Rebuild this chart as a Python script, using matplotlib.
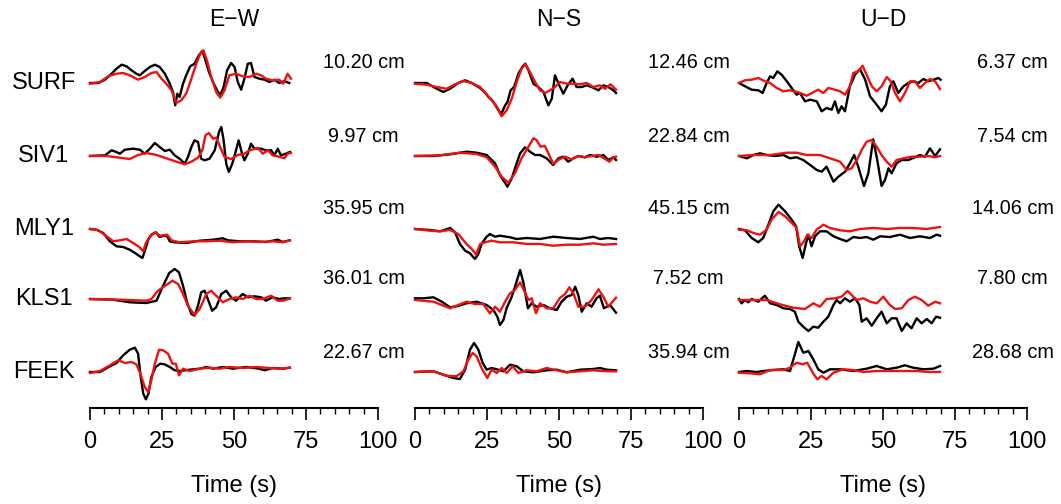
import matplotlib
matplotlib.use("Agg")
import matplotlib.pyplot as plt
from matplotlib.ticker import MultipleLocator

plt.rcParams['font.family'] = ['Liberation Sans', 'DejaVu Sans']

# stations (top to bottom) and components
stations = ["SURF", "SIV1", "MLY1", "KLS1", "FEEK"]
components = ["E\u2212W", "N\u2212S", "U\u2212D"]

# peak displacement per station, cm
ew_peak = [10.20, 9.97, 35.95, 36.01, 22.67]
ns_peak = [12.46, 22.84, 45.15, 7.52, 35.94]
ud_peak = [6.37, 7.54, 14.06, 7.80, 28.68]

# waveforms as (time s, normalized amplitude) - obs = recorded (black), syn = model (red)
ew_surf_obs = [(0, 0), (2.9, 0), (5.2, 3.3), (7.5, 9.3), (9.2, 14.3), (11, 18.3), (12.7, 16.7), (14.4, 12.7),
               (16.1, 9.3), (17.3, 7.7), (19, 12), (20.8, 16), (22.5, 18.3), (24.2, 16), (26, 9.3), (27.7, -0.7),
               (28.8, -9), (29.6, -22.3), (30.3, -10.7), (31.1, -14), (32.3, -0.7), (33.4, 7.7), (34.8, 16.7),
               (36.3, 19.3), (37.8, 27.7), (39, 32), (40.1, 22.7), (41.3, 11), (42.7, 1), (44.1, -7.3),
               (45.2, -12.3), (46.4, -4), (47.6, 12.7), (49, 20), (50.2, 16), (51.3, 1), (52.5, -6.7), (53.6, 4.3),
               (54.8, 19.3), (55.9, 20), (57.1, 6), (58.8, 4.3), (60.6, 3.3), (62.3, 1), (64, 3.3), (65.7, 0),
               (67.5, 2), (69.2, 0)]
ew_surf_syn = [(0, -0.7), (3.5, 1), (6.3, 6.7), (9.2, 9.3), (11.5, 10), (13.8, 7.7), (16.7, 3.3), (19, 6),
               (21.3, 10), (23.1, 11), (24.8, 4.3), (26.5, -0.7), (28.3, -7.3), (30, -20), (31.7, -17.3),
               (33.4, -10.7), (35.2, 4.3), (36.9, 19.3), (38.3, 29.3), (39.4, 32.7), (40.6, 22.7), (42.1, 6),
               (43.8, -9), (45.2, -14.7), (46.7, -7.3), (48.4, 7.7), (50.7, 9.3), (53, 6.7), (55.4, 6), (57.7, 9.3),
               (59.4, 7.7), (61.1, 4.3), (63.4, 2.7), (65.7, 3.3), (67.1, -0.7), (68.6, 9.3), (69.8, 4.3)]
ew_siv1_obs = [(0, 0), (5.2, 0.7), (7.5, 5.7), (9.2, 4), (10.4, 2.3), (12.1, 6.3), (15, 7.3), (17.3, 6.3),
               (19, 2.3), (20.8, 7.3), (22.5, 13), (24.2, 9), (26, 5), (27.7, 6.3), (29.4, 0.7), (31.1, -2.7),
               (32.9, -7.7), (34, -1), (35.2, 9), (36.3, 15.7), (37.5, 14), (38.6, -2.7), (39.8, -4.3),
               (41.5, -2.7), (43.3, 5.7), (44.8, 24), (45.6, 29), (46.4, 15.7), (47.3, -7.7), (48.2, -16),
               (49.4, -7.7), (50.7, 5.7), (51.6, 15.7), (52.8, 2.3), (53.6, -4.3), (54.8, 2.3), (55.9, 12.3),
               (57.1, 7.3), (59.4, 7.3), (61.1, 5.7), (62.9, 5.7), (64, 0.7), (65.2, 7.3), (66.3, 0.7), (68, 2.3),
               (69.4, 4)]
ew_siv1_syn = [(0, 0), (5.8, 0), (9.2, -1.3), (13.8, -3), (16.7, 1), (19.6, 3), (23.1, 1), (26.5, -2.3),
               (30, -5.7), (32.9, -8.3), (35.2, -5.7), (37.5, -1.7), (39, 5.7), (40.1, 20.7), (41.3, 23),
               (42.7, 17.3), (43.8, 18.3), (45.2, 9), (46.7, -1), (49, -3), (51.3, 1), (53.6, 2.3), (55.4, 5.7),
               (58.3, 8), (60, 2.3), (61.8, 5.7), (63.4, 0.7), (65.7, -0.7), (67.5, -2.3), (68.6, 2.3), (69.8, 3)]
ew_mly1_obs = [(0, 0), (2.3, -0.7), (4.6, -4), (6.9, -12.3), (9.2, -17.3), (11.5, -18), (13.8, -20.7),
               (15.6, -24), (17.3, -27.3), (18.2, -29), (19, -22.3), (20.2, -10.7), (21.3, -5.7), (22.8, -3.3),
               (24.2, -8), (25.6, -6.7), (26.8, -7.3), (27.7, -12.3), (29.4, -13.3), (33.4, -14), (38.1, -11.7),
               (42.7, -10.7), (46.1, -9.3), (47.9, -11.3), (51.9, -12.3), (56.5, -12.3), (61.1, -13),
               (65.2, -10.7), (66.9, -13), (69.4, -11.3)]
ew_mly1_syn = [(0, 0), (2.9, -1.3), (5.8, -7.3), (8.1, -12.3), (10.4, -11.3), (12.7, -10), (15, -14),
               (17.1, -18), (18.5, -22.3), (19.4, -14), (20.8, -7.3), (22.8, -3.3), (24.2, -6.7), (26.8, -5.7),
               (28.3, -11.3), (31.1, -13.3), (35.8, -12.3), (40.4, -12.3), (45, -11.7), (49.6, -13.3),
               (54.2, -12.3), (58.8, -13), (63.4, -12.3), (66.9, -13.3), (69.4, -11.3)]
ew_kls1_obs = [(0, 0), (8.1, -0.7), (13.8, -3.3), (19.6, -4), (23.1, -1.7), (25.4, 13.3), (27.5, 26), (29.4, 30),
               (30.9, 26.7), (32.3, 13.3), (33.7, -3.3), (35.2, -15), (36.3, -16.7), (37.5, -6.7), (38.6, 6.7),
               (39.8, 8.3), (40.9, 0), (42.4, -11.7), (43.8, -8.3), (45.6, 5), (47.3, 8.3), (49, 1.7),
               (50.7, -1.7), (53, 5), (54.8, 1.7), (57.1, 2.7), (59.4, 1.7), (61.1, -1.7), (63.4, 1.7), (65.7, 0),
               (67.5, 0.7), (69.4, 0.7)]
ew_kls1_syn = [(0, 0), (10.4, -0.7), (19.6, -1.7), (21.3, 0), (23.6, 8.3), (26.5, 14), (28.6, 18.3), (30.6, 15),
               (32.3, 5), (34, -6.7), (36.3, -16), (38.1, -10), (40.4, 5), (42.1, 8.3), (43.8, 3.3), (46.1, -3.3),
               (48.4, 0), (50.7, 1.7), (53, 0), (55.4, 3.3), (57.7, 0), (60, 0), (62.9, 3.3), (65.2, -1.7),
               (67.1, -1.7), (69.4, 0.7)]
ew_feek_obs = [(0, 0), (3.5, 0), (6.9, 5.7), (9.2, 9), (11.5, 16.7), (13.8, 22.3), (15.6, 24.3), (16.7, 18.3),
               (17.6, -5), (18.5, -21.7), (19.4, -27.3), (20.3, -21.7), (21.3, -5), (22.8, 5), (24.4, 8.3),
               (25.9, 7.7), (27.7, 5), (29.4, 1.7), (31.1, 1), (34.6, 2.3), (38.1, 3.3), (40.4, 5), (42.7, 3.3),
               (46.1, 5), (49.6, 3.3), (54.2, 5), (58.8, 3.3), (60.6, 1.7), (63.4, 4), (66.9, 3.3), (69.4, 4.3)]
ew_feek_syn = [(0, -1), (3.5, 1), (6.9, 6.7), (9.8, 11.7), (12.1, 9), (14.4, 10), (16.1, 7.7), (17.5, -1.7),
               (19, -15), (20.2, -20), (21.3, -8.3), (22.5, 8.3), (24, 22.3), (25.4, 21.7), (27.1, 18.3),
               (28.6, 8.3), (29.8, 8.3), (30.9, -3.3), (32.3, 3.3), (34.6, 1), (38.1, 3.3), (41.5, 4.3), (45, 3.3),
               (48.4, 5), (53, 4), (57.7, 5), (62.3, 4), (65.7, 3.3), (69.4, 4.3)]

ns_surf_obs = [(0, 0), (4.1, 0), (6.4, -4), (9.8, -9), (12.2, -5.7), (15, 0), (17.4, 2.7), (19.7, 0), (22.6, -5),
               (24.7, -10.7), (25.5, -14), (26.6, -16.7), (28.4, -24), (29.9, -31.3), (31.3, -22.3), (32.1, -19),
               (33.2, -7.3), (34.4, -4), (35.9, 9.3), (37.4, 16.7), (38.3, 19.3), (39.4, 12.7), (41.1, -0.7),
               (42.8, -4), (44.6, -9), (46.3, -22.3), (47.5, -15.7), (48.6, 7.7), (50.1, -2.3), (51.5, -10.7),
               (53, -2.3), (54.7, 4.3), (56.1, -4), (57.9, -4), (59.6, -2.3), (61.3, -4), (63.7, -7.3),
               (65.4, -2.3), (67.1, -4), (68.9, -7.3), (69.8, -10)]
ns_surf_syn = [(0, -0.7), (4.1, -1.7), (7.5, -4), (11, -5.7), (13.9, -1.3), (16.8, 2), (19.7, 0), (22.6, -4),
               (25.1, -12.3), (27.2, -19), (28.9, -27.3), (30.1, -33.3), (31.8, -27.3), (33.6, -15.7), (35.3, 1),
               (37, 14.3), (38.4, 18.7), (39.9, 11), (41.7, 1), (43.4, -7.3), (45.1, -10), (46.9, -7.3),
               (48.6, -4), (50.3, 1), (52.7, -0.7), (54.9, -0.7), (57.3, -1.3), (59.6, 0), (61.9, -4),
               (64.2, -2.3), (66, -5.7), (67.9, -1.3), (69.8, -6.7)]
ns_siv1_obs = [(0, 0), (6.4, 0), (12.2, 1.7), (17.9, 4.3), (21.4, 3.3), (24.9, 1), (27.8, -7.3), (29.5, -19),
               (31, -25.7), (32.1, -30.7), (33.6, -22.3), (35.1, -9), (36.5, 2.7), (38.2, 8.7), (39.9, 4.3),
               (41.7, 1), (43.4, 1), (45.7, -2.3), (48, -9), (49.8, -2.3), (51.5, -0.7), (53.2, -5.7),
               (55, -2.3), (56.7, 0), (59, -1.3), (60.8, 1), (63.1, -0.7), (65.4, 1), (67.1, -4), (68.9, -1.3),
               (69.8, -4)]
ns_siv1_syn = [(0, 0), (8.7, 0.7), (15.6, 3.3), (21.4, 2), (24.9, -1.3), (27.8, -10.7), (30.1, -20.7),
               (32.4, -26.7), (34.7, -17.3), (37, -2.3), (39.4, 9.3), (41.1, 17.7), (42.2, 16), (43.6, 9.3),
               (45.1, 10), (46.6, 1), (48, -8), (50.1, -3.3), (52.1, -0.7), (54.4, -3.3), (56.7, 0), (59, -1.3),
               (61.3, 0), (63.7, 1), (65.6, -2.3), (67.5, -5.7), (68.9, -1.3), (69.8, -0.7)]
ns_mly1_obs = [(0, 0), (5.2, -1), (8.7, -2.3), (12.2, 1), (13.9, -3.3), (15.6, -15), (17.4, -21.7), (19.1, -24.3),
               (20.8, -30), (22, -25), (23.1, -15), (24.7, -8.3), (26, -5), (27.8, -7.7), (29.5, -6.7),
               (33, -8.3), (35.3, -10), (38.8, -9), (43.4, -10), (48, -7.7), (52.7, -9), (57.3, -10),
               (61.9, -7.7), (64.2, -10), (67.1, -9), (69.8, -10)]
ns_mly1_syn = [(0, 0), (5.2, -1.7), (8.7, -2.3), (12.2, -1), (15, -5), (17.9, -15), (19.7, -20), (21.2, -25.7),
               (22.6, -15), (24.3, -13.3), (26.6, -11.7), (29.5, -13.3), (34.1, -13.3), (38.8, -15),
               (43.4, -15), (48, -16.7), (52.7, -15.7), (57.3, -15.7), (61.9, -14.3), (65.4, -15.7), (69.8, -15)]
ns_kls1_obs = [(0, 0.7), (2.9, 0.7), (6.4, 1.7), (9.3, -2.7), (12.2, -8.3), (15, -7), (17.9, -4.3), (21.4, -2.7),
               (23.1, -4.3), (24.9, -6), (27.2, -11), (28.6, -17.7), (29.5, -26), (30.7, -21), (31.8, -9.3),
               (33.6, 2.3), (35.1, 15.7), (36.5, 29), (37.7, 15.7), (39.2, -9.3), (40.5, -4.3), (42.2, -7.7),
               (44.6, -6), (46.9, -9.3), (49.2, -11), (50.9, -2.7), (52.7, 2.3), (54.4, 4), (55.6, 12.3),
               (56.7, 4), (57.9, -12.7), (59.6, -4.3), (61.3, -7.7), (63.1, 1), (64.2, 3.3), (65.6, -9.3),
               (67.7, -6), (69.8, -13.7)]
ns_kls1_syn = [(0, -1), (6.4, -2.7), (12.2, -9.3), (15, -6), (17.9, -2.7), (20.8, -5), (23.7, -5), (26, -14.3),
               (27.8, -7.7), (29.5, -12.7), (31.6, -1), (33, 5.7), (34.7, 9), (36.5, 16.7), (37.8, 9),
               (39.4, -1), (40.5, 0.7), (42, -14.3), (43.4, -4.3), (45.7, -9.3), (48, -9.3), (50.3, 1),
               (52.1, 5), (53.6, 11.7), (55, 5.7), (56.7, -7.7), (59, -7.7), (61.3, -1), (63.7, 9.7),
               (65.4, 2.3), (67.1, -7.7), (69.8, 1.3)]
ns_feek_obs = [(0, 0), (6.4, 0.7), (9.8, -2.7), (13.3, -6), (15.6, -7), (17.4, 2.3), (19.1, 22.3), (20.5, 29),
               (22, 22.3), (23.5, 9), (24.9, 2.3), (26.6, 4), (28.9, 2.3), (30.7, 0.7), (33, 7.3), (35.3, 5.7),
               (37.6, 0.7), (41.1, -0.3), (45.7, 1.7), (49.2, 2.3), (52.7, -0.3), (57.3, 2.3), (61.9, 3),
               (64.2, 4), (66.6, 2.3), (69.8, 1.7)]
ns_feek_syn = [(0, 0), (6.4, 0.7), (11, -3.7), (14.4, -4.3), (16.8, 0.7), (18.5, 12.3), (20, 19), (21.4, 15.7),
               (23.1, 4), (25.1, -6), (26.6, 2.3), (28.4, -1), (30.1, 4), (31.8, -1), (33.9, 5.7), (35.9, -1),
               (38.8, 1.7), (42.2, 0.7), (45.7, 4), (49.2, 1.7), (52.7, -0.3), (57.3, 0.7), (61.9, 1.7),
               (66.6, 0.7), (69.8, 0.7)]

ud_surf_obs = [(0, 0), (2.1, -3.3), (4.4, -6.7), (6.7, -7.3), (8.2, -10), (9.6, 0), (10.8, 6.7), (11.9, 5),
               (13.3, 11.7), (14.8, 8.3), (16.6, 1.7), (18.3, -5), (20, -11.7), (21.2, -10), (22.9, -18.3),
               (24.7, -16.7), (27, -18.3), (28.7, -28.3), (30.4, -25), (32.2, -26.7), (33.3, -18.3), (34.5, -30),
               (35.6, -23.3), (36.8, -28.3), (38.5, -3.3), (40.3, 8.3), (42, 14), (43.8, 3.3), (45.5, -13.3),
               (47.8, -21.7), (49.5, -28.3), (51, -21.7), (52.4, -3.3), (53.6, 1.7), (55.3, -10), (57.1, -3.3),
               (58.8, 0), (60.5, 1.7), (62.3, 0), (64, 4), (65.7, 1.7), (67.5, 3.3), (69.2, 5), (70, 3.3)]
ud_surf_syn = [(0, 0), (2.1, 2.7), (4.4, 3.3), (6.7, 5), (9, 1.7), (10.8, 0), (13.1, -5), (15.4, -8.3),
               (17.7, -7.3), (20.6, -9.3), (23.5, -12.7), (25.8, -9.3), (27.5, -6.7), (29.3, -10), (31, -5),
               (33.3, -6.7), (35.1, -8.3), (36.8, -11.7), (38.5, -3.3), (39.7, 10), (41.4, 11.7), (42.9, 17.3),
               (44.3, 8.3), (46.1, -3.3), (47.8, -8.3), (49.5, -3.3), (51.3, 6), (52.7, 1.7), (54.2, -10),
               (55.9, -18.3), (57.6, -10), (59.4, 1.7), (61.1, 1.7), (62.8, -5), (64.6, 0), (66.3, 4),
               (68.1, 1.7), (69.8, -6)]
ud_siv1_obs = [(0, 0), (2.7, -2.3), (5, 1), (7.3, 2.7), (9.6, 1), (12.5, 0), (15.4, 1), (17.7, -2.3),
               (20, -1.3), (22.3, -4), (24.7, -9), (27, -14), (28.7, -15.7), (30.4, -10.7), (32.8, -25.7),
               (34.5, -20.7), (36.8, -15.7), (38.5, -7.3), (40, 1), (41.4, -10.7), (43.4, -30), (44.9, -17.3),
               (46.6, 16.7), (48, -4), (49.5, -30), (50.7, -24), (51.9, -12.3), (53, -17.3), (54.7, -7.3),
               (56.5, -4), (58.8, -4), (61.1, -1.3), (62.8, 1), (64.6, -0.7), (66.3, 7.7), (68.1, 0),
               (69.8, 6.7)]
ud_siv1_syn = [(0, 0), (5, 1), (10.8, 1), (16.6, 3.3), (20, 3.3), (23.5, 1), (28.1, 1), (31.6, -2.3),
               (35.1, -5.7), (37.4, -14), (39.1, -12.3), (40.9, -4), (42.6, 6), (44.3, 14.3), (46.1, 16),
               (47.8, 9.3), (49.5, 1), (51.3, -5.7), (53, -10.7), (54.7, -4), (57.1, -2.3), (60, -0.7),
               (62.8, -0.7), (65.7, 0), (68.1, -1.3), (69.8, 0)]
ud_mly1_obs = [(0, 0), (2.1, -1.3), (4.4, -9), (6.7, -13.3), (8.4, -9), (10.2, 4.3), (11.9, 17.7), (13.7, 24.3),
               (16, 17.7), (18.3, 9.3), (19.8, 2.7), (20.9, -17.3), (22.1, -29), (23.3, -14), (24.1, -5.7),
               (25.2, -17.3), (26.4, -7.3), (28.1, -2.3), (30.4, -2.3), (32.8, -7.3), (35.1, -10), (37.4, -12.3),
               (39.7, -8), (42, -9), (44.3, -8), (46.6, -10.7), (49, -7.3), (52.4, -8), (55.9, -5.7), (59.4, -9),
               (62.8, -7.3), (66.3, -9), (68.6, -5.7), (69.8, -6.7)]
ud_mly1_syn = [(0, -0.7), (2.7, -1.3), (5, -4), (7.3, -5.7), (9.6, -0.7), (11.3, 9.3), (13.7, 17), (16, 12.7),
               (18.3, 6), (20, 1), (21.2, -17.3), (22.6, -12.3), (23.7, -5.7), (25.2, -9), (26.9, -0.7),
               (29.3, 4.3), (31.6, 1), (35.1, -1.3), (38.5, -2.3), (42, 0), (46.6, 1), (51.3, 0), (55.9, 1),
               (60.5, 1), (65.1, 0), (69.8, 2)]
ud_kls1_obs = [(0, 0), (0.9, -4.3), (2.1, -1), (3.2, -3.3), (4.4, 0), (6.7, -2.7), (9, 3.3), (10.8, -4.3),
               (13.1, -6), (15.4, -9.3), (17.7, -10), (19.4, -12.7), (20.6, -22.7), (22.3, -27.7), (24.1, -32),
               (25.8, -27.7), (27.5, -28.7), (29.3, -22.7), (31, -17.7), (32.8, -6), (33.9, -1), (35.1, -4.3),
               (36.8, 0.7), (38.5, -2.7), (40.3, 0.7), (41.8, -6), (42.6, -22.7), (44.3, -19.3), (46.1, -26.7),
               (47.8, -19.3), (49.5, -12.7), (51.3, -24.3), (53, -19.3), (54.7, -19.3), (56.5, -32),
               (58.2, -24.3), (59.9, -29.3), (61.7, -19.3), (63.4, -24.3), (65.2, -20), (66.9, -24.3),
               (68.4, -17.7), (69.8, -18.7)]
ud_kls1_syn = [(0, -1), (5, -1), (9.6, -1), (14.2, -5.3), (18.8, -8.7), (22.9, -10), (25.8, -4.3), (28.1, -7.7),
               (30.4, 0), (33.3, 0.7), (35.6, 2.3), (37.7, 8), (39.1, 4), (40.9, -1), (43.2, 0.7), (45.5, -2.7),
               (47.8, -4.3), (50.1, 2.3), (52.4, -6), (54.2, -10), (56.5, -9.3), (58.8, -1), (61.1, 2.3),
               (63.4, -1), (65.7, -6.7), (68.1, -2.7), (69.8, -4.3)]
ud_feek_obs = [(0, 0), (2.7, 1), (6.1, 0), (8.4, 1), (11.9, 2), (15.4, 2.7), (17.7, 1), (18.9, 12.7), (20.6, 30),
               (22.3, 19.3), (24.1, 21), (25.8, 12.7), (27.5, 2.7), (29.3, -0.7), (31.6, 2.7), (35.1, 2.7),
               (39.7, 1), (44.3, 3.3), (47.8, 6), (51.3, 2.7), (54.7, 4.3), (57.6, 6.7), (60.5, 4.3), (64, 2.7),
               (67.5, 3.3), (69.8, 6)]
ud_feek_syn = [(0, -0.7), (3.8, -1.3), (7.3, -2.3), (10.8, 2), (15.4, 2), (17.7, 4.3), (20, 9.3), (22.1, 7.7),
               (23.7, 9.3), (25.6, -0.7), (27.2, -7.3), (28.7, -4), (30.4, -7.3), (32.8, -0.7), (36.2, 2.7),
               (39.7, 2), (43.2, 0), (47.8, 1), (52.4, 1), (57.1, 1), (61.7, 1), (66.3, 0), (69.8, 0)]

# vertical position of each station's trace baseline
row_offset = [325, 252, 179, 109, 36]

panels = [
    (components[0], ew_peak, [ew_surf_obs, ew_siv1_obs, ew_mly1_obs, ew_kls1_obs, ew_feek_obs],
     [ew_surf_syn, ew_siv1_syn, ew_mly1_syn, ew_kls1_syn, ew_feek_syn], 90),
    (components[1], ns_peak, [ns_surf_obs, ns_siv1_obs, ns_mly1_obs, ns_kls1_obs, ns_feek_obs],
     [ns_surf_syn, ns_siv1_syn, ns_mly1_syn, ns_kls1_syn, ns_feek_syn], 415),
    (components[2], ud_peak, [ud_surf_obs, ud_siv1_obs, ud_mly1_obs, ud_kls1_obs, ud_feek_obs],
     [ud_surf_syn, ud_siv1_syn, ud_mly1_syn, ud_kls1_syn, ud_feek_syn], 739),
]

W, H = 1061, 504
fig = plt.figure(figsize=(W / 100, H / 100), dpi=100)

for k, (comp, peaks, obs, syn, left) in enumerate(panels):
    ax = fig.add_axes([left / W, (H - 408) / H, 288 / W, 408 / H])
    for i in range(len(stations)):
        t, a = zip(*obs[i])
        ax.plot(t, [v + row_offset[i] for v in a], color='black', lw=1.7,
                solid_joinstyle='round', clip_on=False)
        t, a = zip(*syn[i])
        ax.plot(t, [v + row_offset[i] for v in a], color='#ee1111', lw=1.7,
                solid_joinstyle='round', clip_on=False)
        ax.text(95, row_offset[i] + 20, f"{peaks[i]:.2f} cm", ha='center', va='center', fontsize=14.3)
        if k == 0:
            ax.text(-16.0, row_offset[i], stations[i], ha='center', va='center', fontsize=17)
    ax.text(50, 388, comp, ha='center', va='center', fontsize=16.5)

    ax.set_xlim(0, 100)
    ax.set_ylim(0, 408)
    for s in ['left', 'top', 'right']:
        ax.spines[s].set_visible(False)
    ax.spines['bottom'].set_linewidth(1.5)
    ax.set_yticks([])
    ax.xaxis.set_major_locator(MultipleLocator(25))
    ax.xaxis.set_minor_locator(MultipleLocator(5))
    ax.tick_params(axis='x', which='major', direction='out', length=8.6, width=1.2, labelsize=17, pad=8)
    ax.tick_params(axis='x', which='minor', direction='out', length=4.3, width=1.0)
    ax.set_xlabel("Time (s)", fontsize=17, labelpad=16)
    ax.patch.set_visible(False)

fig.savefig("out.png", dpi=100)
